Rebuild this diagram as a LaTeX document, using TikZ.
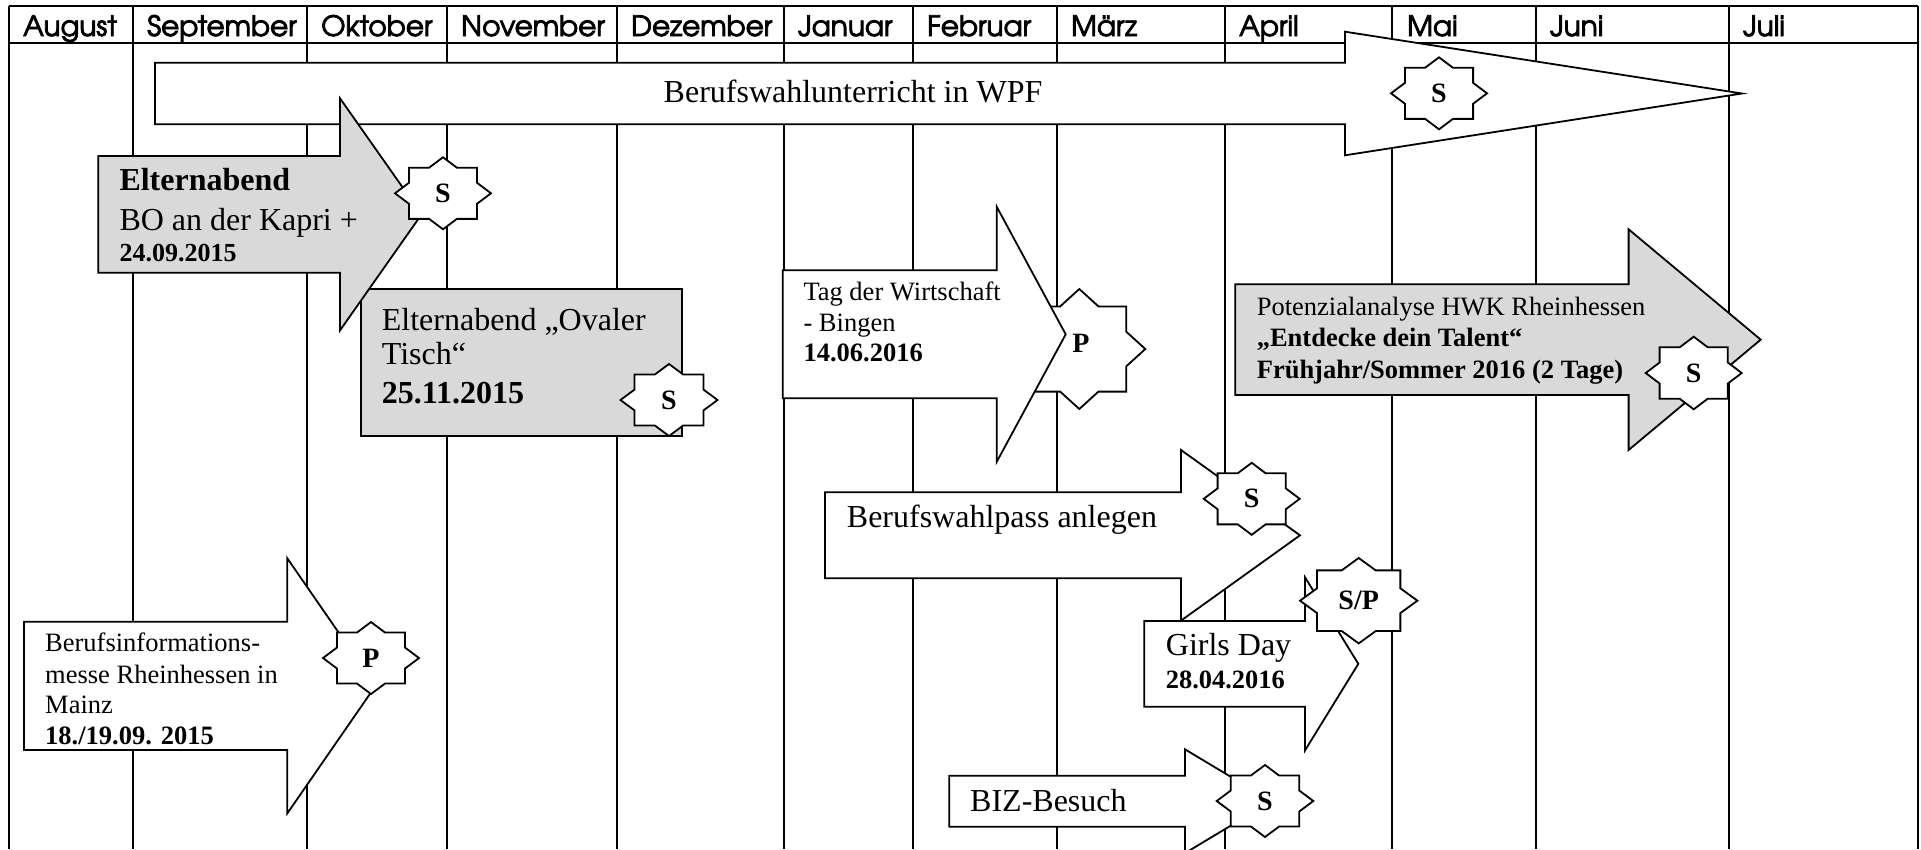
\documentclass[tikz,border=0pt]{standalone}
\usepackage{fontspec}
\setmainfont{Liberation Serif}
\newfontfamily\hdr[FakeBold=3]{TeX Gyre Adventor}
\definecolor{boxgrey}{HTML}{D9D9D9}
\newcommand\octostar[6]{%
 \begin{scope}[shift={(#2,#3)}]
 \filldraw[starshape] (0,-#5) -- ({0.29*#4},{-0.71*#5}) -- ({0.71*#4},{-0.71*#5}) -- ({0.71*#4},{-0.29*#5}) -- (#4,0) -- ({0.71*#4},{0.29*#5}) -- ({0.71*#4},{0.71*#5}) -- ({0.29*#4},{0.71*#5}) -- (0,#5) -- ({-0.29*#4},{0.71*#5}) -- ({-0.71*#4},{0.71*#5}) -- ({-0.71*#4},{0.29*#5}) -- (-#4,0) -- ({-0.71*#4},{-0.29*#5}) -- ({-0.71*#4},{-0.71*#5}) -- ({-0.29*#4},{-0.71*#5}) -- cycle;
 \node[starlbl] (#1) at (0,0) {#6};
 \end{scope}}
\newcommand\blockarrow[8]{%
 \filldraw[#1] (#3,#4) coordinate (#2-nw) -- (#6,#4) -- (#6,#7) -- (#8,{(#4+#5)/2}) coordinate (#2-tip) -- (#6,{#4+#5-#7}) -- (#6,#5) -- (#3,#5) -- cycle;}
\tikzset{
 grid/.style={line width=2pt, black},
 starshape/.style={draw=black, fill=white, line width=1.8pt, line join=miter},
 starlbl/.style={inner sep=0pt, font=\bfseries\fontsize{28}{32}\selectfont},
 whitearrow/.style={draw=black, fill=white, line width=1.8pt, line join=miter},
 greyarrow/.style={draw=black, fill=boxgrey, line width=1.8pt, line join=miter},
 month/.style={anchor=base west, inner sep=0pt, font=\hdr\fontsize{28}{32}\selectfont},
 txtL/.style={anchor=base west, inner sep=0pt, font=\fontsize{32}{38}\selectfont},
 txtLb/.style={anchor=base west, inner sep=0pt, font=\bfseries\fontsize{32}{38}\selectfont},
 txtS/.style={anchor=base west, inner sep=0pt, font=\fontsize{26.5}{31}\selectfont},
 txtSb/.style={anchor=base west, inner sep=0pt, font=\bfseries\fontsize{26.5}{31}\selectfont},
}
\begin{document}
\begin{tikzpicture}[x=1pt,y=-1pt]
\useasboundingbox (0,0) rectangle (1921,849);
% grid
\draw[grid] (9.3,6) -- (1918,6);
\draw[grid] (9.3,42.7) -- (1918,42.7);
\foreach \xx in {9.3,132.7,306.7,446.7,617,784,913,1057,1224.5,1392,1535.6,1728.5,1918}
  \draw[grid] (\xx,6) -- (\xx,849);
\node[month] (m1) at (23,36) {August};
\node[month] (m2) at (147,36) {September};
\node[month] (m3) at (321,36) {Oktober};
\node[month] (m4) at (461,36) {November};
\node[month] (m5) at (631,36) {Dezember};
\node[month] (m6) at (798,36) {Januar};
\node[month] (m7) at (927,36) {Februar};
\node[month] (m8) at (1071,36) {März};
\node[month] (m9) at (1239,36) {April};
\node[month] (m10) at (1407,36) {Mai};
\node[month] (m11) at (1550,36) {Juni};
\node[month] (m12) at (1743,36) {Juli};
% Berufswahlunterricht
\blockarrow{whitearrow}{wpf}{155}{62.7}{124.3}{1345}{31.7}{1742}
\node[anchor=base, inner sep=0pt, font=\fontsize{32}{38}\selectfont] (wpftxt) at (853,102) {Berufswahlunterricht in WPF};
\octostar{wpfs}{1439}{93.3}{48}{36}{S}
% Elternabend Ovaler Tisch
\filldraw[greyarrow] (360.7,289.3) rectangle (682.3,435.7);
\node[txtL] (ov1) at (381.7,330) {Elternabend „Ovaler};
\node[txtL] (ov2) at (381.7,364) {Tisch“};
\node[txtLb] (ov3) at (381.7,403) {25.11.2015};
\octostar{ovs}{669}{400}{48.5}{36}{S}
% Elternabend BO
\blockarrow{greyarrow}{bo}{98.3}{156}{272.7}{340}{98.3}{421.6}
\node[txtLb] (bo1) at (119.3,190) {Elternabend};
\node[txtL] (bo2) at (119.3,230) {BO an der Kapri +};
\node[anchor=base west, inner sep=0pt, font=\bfseries\fontsize{26}{31}\selectfont] (bo3) at (119.3,261) {24.09.2015};
\octostar{bos}{443}{193.3}{48}{36}{S}
% Tag der Wirtschaft
\octostar{tags}{1079.3}{349}{66}{60}{}
\blockarrow{whitearrow}{tag}{782.7}{270.3}{398.3}{996.7}{206.7}{1065.7}
\node[starlbl] (tagp) at (1081,343) {P};
\node[txtS] (tag1) at (803.3,300) {Tag der Wirtschaft};
\node[txtS] (tag2) at (803.3,331.5) {- Bingen};
\node[txtSb] (tag3) at (803.3,361.5) {14.06.2016};
% Potenzialanalyse
\blockarrow{greyarrow}{pot}{1235.2}{284.3}{395}{1628.6}{229.3}{1760.7}
\node[txtS] (pot1) at (1256.6,315) {Potenzialanalyse HWK Rheinhessen};
\node[txtSb] (pot2) at (1256.6,346.7) {„Entdecke dein Talent“};
\node[txtSb] (pot3) at (1256.6,378.3) {Frühjahr/Sommer 2016 (2 Tage)};
\octostar{pots}{1693.7}{373}{48}{36.3}{S}
% Girls Day
\blockarrow{whitearrow}{gd}{1144.3}{621}{706.7}{1305}{577.3}{1358.3}
\node[txtL] (gd1) at (1165.7,655) {Girls Day};
\node[anchor=base west, inner sep=0pt, font=\bfseries\fontsize{26.4}{31}\selectfont] (gd2) at (1165.7,688.3) {28.04.2016};
\octostar{gds}{1358.7}{600.7}{58.7}{42.7}{S/P}
% Berufswahlpass
\blockarrow{whitearrow}{bwp}{825}{492.3}{578.3}{1181}{450}{1300}
\node[txtL] (bwp1) at (846.7,527) {Berufswahlpass anlegen};
\octostar{bwps}{1251.7}{498.8}{48}{36}{S}
% BIZ
\blockarrow{whitearrow}{biz}{949.3}{775.7}{826.7}{1185}{749.3}{1271.5}
\node[txtL] (biz1) at (970,811.7) {BIZ-Besuch};
\octostar{bizs}{1265}{801}{48.3}{36}{S}
% Berufsinformationsmesse
\blockarrow{whitearrow}{bim}{24}{621.7}{750}{287.3}{558.3}{375.5}
\node[txtS] (bim1) at (45,651.7) {Berufsinformations-};
\node[txtS] (bim2) at (45,683.3) {messe Rheinhessen in};
\node[txtS] (bim3) at (45,713.3) {Mainz};
\node[txtSb] (bim4) at (45,744) {18./19.09. 2015};
\octostar{bims}{371}{658}{48}{36}{P}
\end{tikzpicture}
\end{document}
